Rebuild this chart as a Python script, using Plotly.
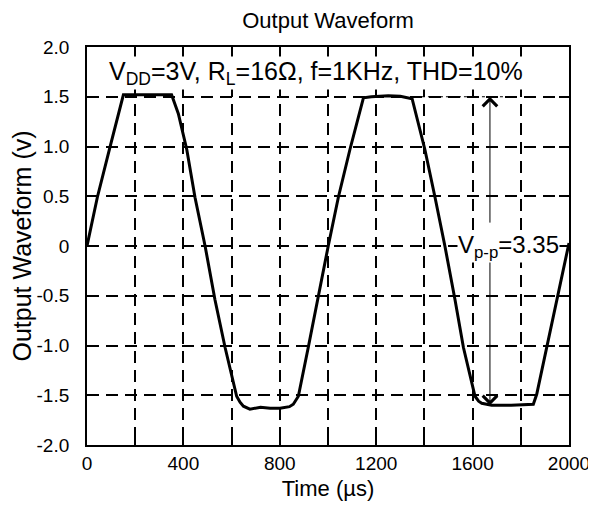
import plotly.graph_objects as go

# Waveform samples (time in µs, voltage in V)
time_us = [0, 43, 93, 151, 250, 351, 379, 414, 448, 490, 531, 573, 621, 635, 649, 676,
           720, 760, 801, 840, 856, 877, 918, 956, 1001, 1043, 1091, 1147, 1180, 1250,
           1300, 1349, 1375, 1402, 1444, 1485, 1527, 1562, 1610, 1625, 1638, 1679, 1760,
           1820, 1852, 1866, 1908, 1949, 2000]
volts = [0, 0.49, 0.97, 1.52, 1.52, 1.52, 1.33, 0.97, 0.49, 0.0, -0.54, -1.02, -1.51, -1.57,
         -1.61, -1.64, -1.62, -1.63, -1.63, -1.615, -1.59, -1.51, -1.02, -0.54, 0.0, 0.49,
         0.97, 1.49, 1.50, 1.51, 1.505, 1.48, 1.23, 0.97, 0.49, 0.0, -0.54, -1.02, -1.51,
         -1.56, -1.58, -1.60, -1.60, -1.595, -1.59, -1.49, -1.02, -0.54, 0.03]

x_ticks = list(range(0, 2001, 200))
x_labels = [str(v) if v % 400 == 0 else "" for v in x_ticks]
y_ticks = [-2.0, -1.5, -1.0, -0.5, 0, 0.5, 1.0, 1.5, 2.0]
y_labels = ["-2.0", "-1.5", "-1.0", "-0.5", "0", "0.5", "1.0", "1.5", "2.0"]

title_text = "Output Waveform"
cond_text = "V<sub>DD</sub>=3V, R<sub>L</sub>=16Ω, f=1KHz, THD=10%"
vpp_text = "V<sub>p-p</sub>=3.35"
arrow_t = 1672
arrow_top = 1.5
arrow_bottom = -1.6
dotted_t = [1340, 1785]
dotted_v = 1.5

FONT = "Liberation Sans, Arial, sans-serif"
W, H = 588, 497  # page body has an 8px margin

fig = go.Figure()
fig.add_trace(go.Scatter(x=time_us, y=volts, mode="lines",
                         line=dict(color="black", width=3), showlegend=False,
                         hoverinfo="skip"))

fig.add_shape(type="line", x0=dotted_t[0], x1=dotted_t[1], y0=dotted_v, y1=dotted_v,
              xref="x", yref="y", line=dict(color="black", width=1, dash="dot"))

# up arrow and down arrow
fig.add_annotation(x=arrow_t, y=arrow_top, ax=arrow_t, ay=0.22, xref="x", yref="y",
                   axref="x", ayref="y", text="", showarrow=True, arrowhead=4,
                   arrowsize=2.8, arrowwidth=1, arrowcolor="black")
fig.add_annotation(x=arrow_t, y=arrow_bottom, ax=arrow_t, ay=-0.08, xref="x", yref="y",
                   axref="x", ayref="y", text="", showarrow=True, arrowhead=4,
                   arrowsize=2.8, arrowwidth=1, arrowcolor="black")

fig.add_annotation(x=1535, y=0.0, xref="x", yref="y", text=vpp_text, showarrow=False,
                   xanchor="left", yanchor="middle", bgcolor="white", borderpad=0,
                   font=dict(size=24, color="black", family=FONT))
fig.add_annotation(x=950, y=1.74, xref="x", yref="y", text=cond_text, showarrow=False,
                   xanchor="center", yanchor="middle", bgcolor="white", borderpad=0,
                   font=dict(size=25, color="black", family=FONT))

fig.update_layout(
    width=W, height=H,
    margin=dict(l=79, r=27, t=39, b=60, autoexpand=False),
    paper_bgcolor="white", plot_bgcolor="white",
    font=dict(family=FONT, color="black"),
    title=dict(text=title_text, x=0.5, xref="paper", xanchor="center",
               y=1 - 12 / H, yref="container", yanchor="middle",
               font=dict(size=22, color="black", family=FONT)),
)

grid_dash = "12px,7px"
fig.update_xaxes(range=[0, 2000], tickvals=x_ticks, ticktext=x_labels,
                 ticks="inside", ticklen=10, tickwidth=1.5, tickcolor="black",
                 showline=True, linecolor="black", linewidth=1.8, mirror="ticks",
                 showgrid=True, gridcolor="black", gridwidth=1.8, griddash=grid_dash,
                 zeroline=False, tickfont=dict(size=19, family=FONT), automargin=False,
                 title=dict(text="Time (µs)", font=dict(size=22, family=FONT), standoff=8))
fig.update_yaxes(range=[-2, 2], tickvals=y_ticks, ticktext=y_labels,
                 ticks="inside", ticklen=10, tickwidth=1.5, tickcolor="black",
                 showline=True, linecolor="black", linewidth=1.8, mirror="ticks",
                 showgrid=True, gridcolor="black", gridwidth=1.8, griddash=grid_dash,
                 zeroline=False, tickfont=dict(size=19, family=FONT), ticklabelstandoff=12,
                 automargin=False,
                 title=dict(text="Output Waveform (v)", font=dict(size=25, family=FONT), standoff=4))

fig.write_html("out.html")
